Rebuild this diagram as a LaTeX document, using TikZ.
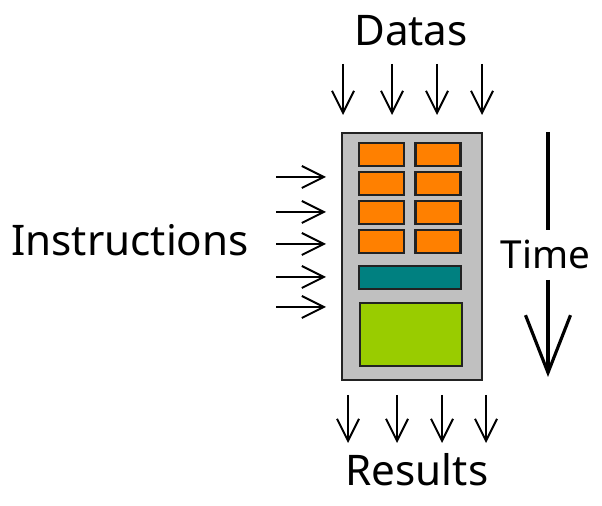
\documentclass[tikz,border=0pt]{standalone}
\usepackage{fontspec}
\setmainfont{Noto Sans}
\usetikzlibrary{arrows.meta}

\definecolor{coregray}{HTML}{C0C0C0}
\definecolor{aluorange}{HTML}{FF8000}
\definecolor{ctrlteal}{HTML}{008080}
\definecolor{cachegreen}{HTML}{99CC00}
\definecolor{edgegray}{HTML}{222222}

\begin{document}
\begin{tikzpicture}[x=0.02cm,y=-0.02cm,
    unit/.style={draw=edgegray,line width=1.5pt,inner sep=0pt},
    flow/.style={line width=1.1pt,-{Straight Barb[length=0.44cm,width=0.44cm]}},
    label/.style={font=\fontsize{24}{28}\selectfont}]
  \useasboundingbox (0,0) rectangle (602,506);

  % Core
  \node[unit,fill=coregray,minimum width=2.8cm,minimum height=4.94cm] (core) at (412,256.5) {};

  % ALUs
  \foreach \y/\r in {154.5/1,183.5/2,212.5/3,241.5/4}{
    \node[unit,fill=aluorange,minimum width=0.9cm,minimum height=0.46cm] (alu\r a) at (381.5,\y) {};
    \node[unit,fill=aluorange,minimum width=0.9cm,minimum height=0.46cm] (alu\r b) at (438,\y) {};
  }

  % Control and cache
  \node[unit,fill=ctrlteal,minimum width=2.04cm,minimum height=0.46cm] (ctrl) at (410,277.5) {};
  \node[unit,fill=cachegreen,minimum width=2.04cm,minimum height=1.26cm] (cache) at (411,334.5) {};

  % Labels
  \node[label] (datas) at (411,31) {Datas};
  \node[label] (instr) at (130,240) {Instructions};
  \node[label] (results) at (417,470) {Results};
  \node[label,font=\fontsize{22}{26}\selectfont] (time) at (545.5,254) {Time};

  % Data in
  \foreach \x/\n in {343/1,392/2,437/3,482/4}{
    \coordinate (d\n s) at (\x,64);
    \coordinate (d\n e) at (\x,115);
    \draw[flow] (d\n s) -- (d\n e);
  }

  % Instructions in
  \foreach \y/\n in {177/1,212/2,244/3,277/4,307/5}{
    \coordinate (i\n s) at (276,\y);
    \coordinate (i\n e) at (326,\y);
    \draw[flow] (i\n s) -- (i\n e);
  }

  % Results out
  \foreach \x/\n in {348/1,397/2,442/3,486/4}{
    \coordinate (r\n s) at (\x,395);
    \coordinate (r\n e) at (\x,443);
    \draw[flow] (r\n s) -- (r\n e);
  }

  % Time axis
  \coordinate (ttop) at (548,132);
  \coordinate (tmid) at (548,230);
  \coordinate (tlow) at (548,280);
  \coordinate (tend) at (548,377);
  \draw[line width=1.8pt] (ttop) -- (tmid);
  \draw[line width=1.8pt,-{Straight Barb[length=1.15cm,width=0.9cm]}] (tlow) -- (tend);
\end{tikzpicture}
\end{document}
